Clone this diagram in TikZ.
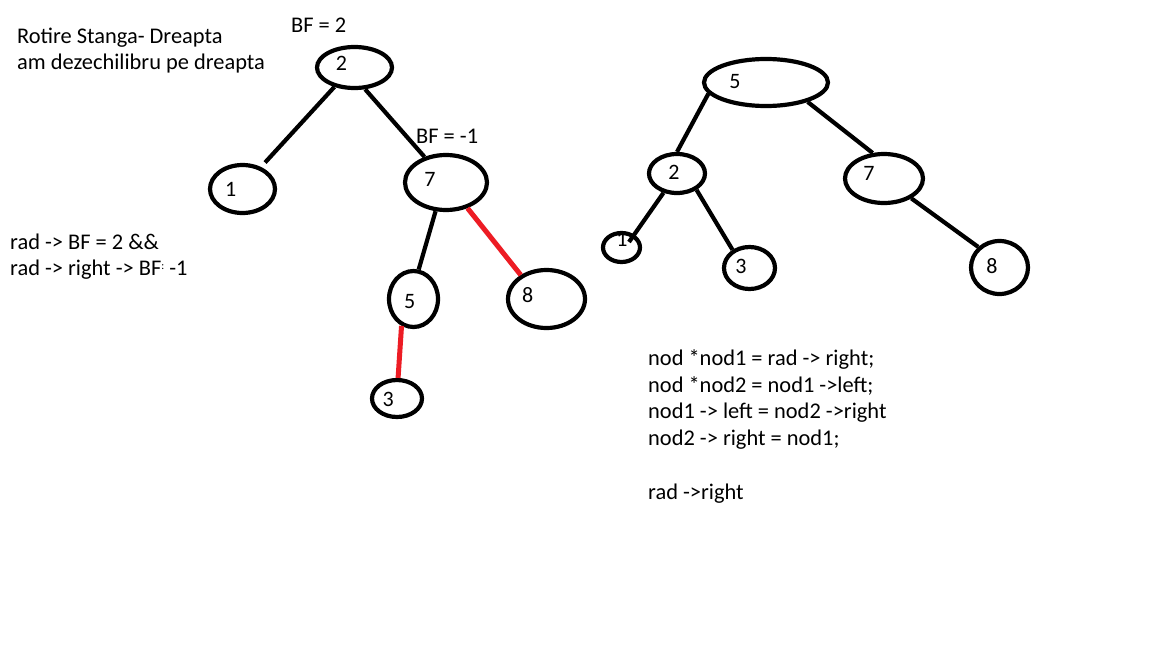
\documentclass[tikz,border=0pt]{standalone}
\usepackage{fontspec}
\setmainfont{Carlito}
\usetikzlibrary{shapes.geometric}
\definecolor{paintred}{RGB}{237,28,36}
\tikzset{
  bub/.style={ellipse, draw=black, line width=4.2pt, inner sep=0pt},
  dig/.style={inner sep=0pt, text height=14pt, text depth=0pt, font=\fontsize{22}{26}\selectfont},
  txt/.style={inner sep=0pt, anchor=base west, font=\fontsize{22.4}{27}\selectfont},
  edge/.style={line width=4.2pt, draw=black},
  redge/.style={line width=5pt, draw=paintred}
}
\begin{document}
\begin{tikzpicture}[x=1pt,y=-1pt]
\fill[white] (0,0) rectangle (1152,648);
\useasboundingbox (0,0) rectangle (1152,648);

% ---------- left texts
\node[txt] (t1) at (17,43) {Rotire Stanga- Dreapta};
\node[txt] (t2) at (17,69) {am dezechilibru pe dreapta};
\node[txt] (t3) at (10,249) {rad -> BF = 2 \&\&};
\node[txt] (t4) at (10,275) {rad -> right -> BF{\fontsize{11}{11}\selectfont\raisebox{6pt}{:}} -1};
\node[txt] (bf2) at (291,32) {BF = 2};
\node[txt] (bf1) at (416,143) {BF = -1};

% ---------- left tree
\node[bub, minimum width=75pt, minimum height=41pt] (L2) at (354.5,67.5) {};
\node[bub, minimum width=65pt, minimum height=48pt] (L1) at (242.5,189) {};
\node[bub, minimum width=82pt, minimum height=55pt] (L7) at (446,182.5) {};
\node[bub, minimum width=49pt, minimum height=56pt] (L5) at (413.5,299) {};
\node[bub, minimum width=77pt, minimum height=58pt] (L8) at (546.5,299) {};
\node[bub, minimum width=50pt, minimum height=37pt] (L3) at (397,398.5) {};

\node[dig] (l2t) at (341.5,63.3) {2};
\node[dig] (l1t) at (230.8,189) {1};
\node[dig] (l7t) at (430,179.3) {7};
\node[dig] (l5t) at (409.6,301) {5};
\node[dig] (l8t) at (527.7,295.7) {8};
\node[dig] (l3t) at (388.3,399) {3};

\draw[edge, shorten >=6pt] (L2.-136) -- (L1.50);
\draw[edge] (L2.-64) -- (L7.130);
\draw[edge] (L7.-110) -- (L5.80);
\draw[redge] (L7.-50) -- (L8.137);
\draw[redge] (L5.-114) -- (L3.87);

% ---------- right tree
\node[bub, minimum width=124pt, minimum height=47pt] (R5) at (766,82.5) {};
\node[bub, minimum width=56pt, minimum height=39pt] (R2) at (677,173.5) {};
\node[bub, minimum width=78pt, minimum height=49pt] (R7) at (884,178.5) {};
\node[bub, minimum width=37pt, minimum height=29pt] (R1) at (621.5,247.5) {};
\node[bub, minimum width=51pt, minimum height=42pt] (R3) at (749.5,268) {};
\node[bub, minimum width=57pt, minimum height=53pt] (R8) at (999.5,267.5) {};

\node[dig] (r5t) at (735,81) {5};
\node[dig] (r2t) at (674,172) {2};
\node[dig] (r7t) at (869,173) {7};
\node[dig] (r1t) at (622,239) {1};
\node[dig] (r3t) at (741,266) {3};
\node[dig] (r8t) at (992,266) {8};

\coordinate (r1tip) at (629,242);
\draw[edge] (R5.191) -- (R2.90);
\draw[edge] (R5.-25) -- (R7.114);
\draw[edge] (R2.-125) -- (r1tip);
\draw[edge] (R2.-40) -- (R3.133);
\draw[edge] (R7.-36) -- (R8.136);

% ---------- code
\node[txt] (c1) at (648,365.7) {nod *nod1 = rad -> right;};
\node[txt] (c2) at (648,392) {nod *nod2 = nod1 ->left;};
\node[txt] (c3) at (648,418.5) {nod1 -> left = nod2 ->right};
\node[txt] (c4) at (648,445) {nod2 -> right = nod1;};
\node[txt] (c5) at (648,499) {rad ->right};
\end{tikzpicture}
\end{document}
